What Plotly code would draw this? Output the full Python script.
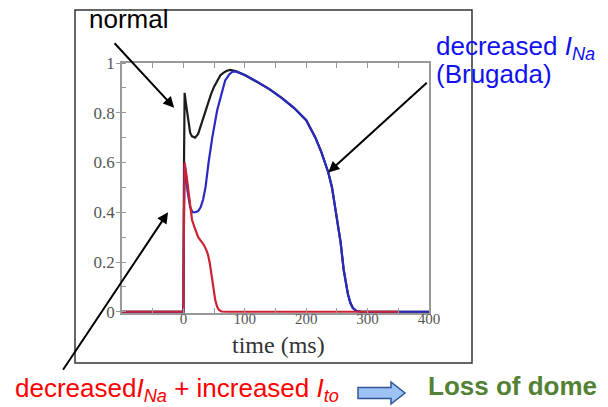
import plotly.graph_objects as go

# Action potential traces (time in ms, normalised voltage)
t_normal = [-100, 0, 1, 2, 4, 6.5, 9, 11, 14, 19, 24, 30, 35, 40, 45, 50, 55, 60, 65, 70, 76, 85,
            100, 120, 140, 160, 180, 200, 215, 225, 236, 242, 251, 256, 261, 264, 268, 272, 276, 282, 290, 400]
v_normal = [0, 0, 0.6, 0.88, 0.84, 0.80, 0.75, 0.72, 0.705, 0.70, 0.715, 0.76, 0.80, 0.84, 0.875, 0.905, 0.93, 0.95, 0.96, 0.968, 0.972, 0.968,
            0.952, 0.925, 0.895, 0.86, 0.82, 0.77, 0.70, 0.64, 0.56, 0.50, 0.37, 0.28, 0.17, 0.13, 0.07, 0.035, 0.015, 0.003, 0, 0]

t_brugada = [-100, 0, 1, 2, 3, 6.5, 11, 15, 19.5, 24, 28, 32, 36, 41, 47, 55, 63, 68, 75, 80, 85,
             100, 120, 140, 160, 180, 200, 215, 225, 236, 242, 251, 256, 261, 264, 268, 272, 276, 282, 290, 400]
v_brugada = [0, 0, 0.4, 0.59, 0.58, 0.49, 0.42, 0.40, 0.40, 0.405, 0.42, 0.45, 0.50, 0.60, 0.70, 0.81, 0.89, 0.93, 0.955, 0.965, 0.966,
             0.952, 0.925, 0.895, 0.86, 0.82, 0.77, 0.70, 0.64, 0.56, 0.50, 0.37, 0.28, 0.17, 0.13, 0.07, 0.035, 0.015, 0.003, 0, 0]

t_loss = [-100, 0, 1, 2, 3, 5, 6.5, 9, 11, 14, 18, 24, 30, 33, 37, 40, 43, 46, 49, 52, 55, 58, 62, 70, 350]
v_loss = [0, 0, 0.4, 0.6, 0.58, 0.55, 0.52, 0.46, 0.41, 0.37, 0.34, 0.30, 0.28, 0.27, 0.25, 0.23, 0.195, 0.14, 0.08, 0.045, 0.02, 0.007, 0.001, 0, 0]

x_ticks = [0, 100, 200, 300, 400]

# Plot-area geometry in pixels
W, H = 608, 407
L, R, T, B = 122, 429, 63, 313


def fx(px):
    return (px - L) / (R - L)


def fy(py):
    return (B - py) / (B - T)


fig = go.Figure()
fig.add_trace(go.Scatter(x=t_normal, y=v_normal, mode="lines",
                         line=dict(color="#1c1c1c", width=2.2), hoverinfo="skip"))
fig.add_trace(go.Scatter(x=t_brugada, y=v_brugada, mode="lines",
                         line=dict(color="#2a2ac0", width=2.2), hoverinfo="skip"))
fig.add_trace(go.Scatter(x=t_loss, y=v_loss, mode="lines",
                         line=dict(color="#cc2233", width=2.2), hoverinfo="skip"))

sans = "Liberation Sans, Arial, sans-serif"
serif = "Liberation Serif, Times New Roman, serif"

annotations = [
    dict(text="normal", xref="paper", yref="paper", x=fx(87), y=fy(19),
         xanchor="left", yanchor="middle", showarrow=False,
         font=dict(family=sans, size=26, color="black")),
    dict(text="decreased <i>I<sub>Na</sub></i>", xref="paper", yref="paper", x=fx(434), y=fy(48),
         xanchor="left", yanchor="middle", showarrow=False,
         font=dict(family=sans, size=26, color="#1010f0")),
    dict(text="(Brugada)", xref="paper", yref="paper", x=fx(434), y=fy(74),
         xanchor="left", yanchor="middle", showarrow=False,
         font=dict(family=sans, size=26, color="#1010f0")),
    dict(text="decreased<i>I<sub>Na</sub></i> + increased <i>I<sub>to</sub></i>", xref="paper", yref="paper",
         x=fx(13), y=fy(389), xanchor="left", yanchor="middle", showarrow=False,
         font=dict(family=sans, size=26, color="#ff0000")),
    dict(text="<b>Loss of dome</b>", xref="paper", yref="paper", x=fx(426), y=fy(386),
         xanchor="left", yanchor="middle", showarrow=False,
         font=dict(family=sans, size=26, color="#548235")),
    dict(text="time (ms)", xref="paper", yref="paper", x=fx(278), y=fy(345),
         xanchor="center", yanchor="middle", showarrow=False,
         font=dict(family=serif, size=24, color="#333333")),
    # pointer arrows
    dict(text="", x=-15, y=0.82, xref="x", yref="y", ax=-61, ay=-66, axref="pixel", ayref="pixel",
         showarrow=True, arrowhead=2, arrowsize=1.1, arrowwidth=2, arrowcolor="black"),
    dict(text="", x=-25, y=0.40, xref="x", yref="y", ax=-106, ay=159, axref="pixel", ayref="pixel",
         showarrow=True, arrowhead=2, arrowsize=1.1, arrowwidth=2, arrowcolor="black"),
    dict(text="", x=236, y=0.56, xref="x", yref="y", ax=100, ay=-91, axref="pixel", ayref="pixel",
         showarrow=True, arrowhead=2, arrowsize=1.1, arrowwidth=2, arrowcolor="black"),
]


def block_arrow(x0, x1, xh, ymid, body_half, head_half):
    pts = [(x0, ymid - body_half), (xh, ymid - body_half), (xh, ymid - head_half), (x1, ymid),
           (xh, ymid + head_half), (xh, ymid + body_half), (x0, ymid + body_half)]
    s = "M " + " L ".join(f"{fx(a):.5f},{fy(b):.5f}" for a, b in pts) + " Z"
    return s


shapes = [
    dict(type="rect", xref="paper", yref="paper", x0=fx(75), x1=fx(472), y0=fy(363), y1=fy(10),
         line=dict(color="#333333", width=1.5), fillcolor="rgba(0,0,0,0)", layer="below"),
    dict(type="path", xref="paper", yref="paper", path=block_arrow(358, 405, 391, 393, 5.5, 11),
         line=dict(color="#2f5597", width=1.5), fillcolor="#9dc3f5"),
]

fig.update_layout(
    width=W, height=H,
    margin=dict(l=L, r=W - R, t=T, b=H - B, pad=0),
    paper_bgcolor="white", plot_bgcolor="white",
    showlegend=False,
    annotations=annotations,
    shapes=shapes,
    xaxis=dict(range=[-100, 400], tickvals=x_ticks, ticks="inside", ticklen=5, tickcolor="#999",
               minor=dict(dtick=50, ticks="inside", ticklen=5, tickcolor="#999"),
               showline=True, linecolor="#999", linewidth=1.5, mirror="allticks",
               showgrid=False, zeroline=False, ticklabelstandoff=-9,
               tickfont=dict(family=serif, size=15, color="#555")),
    yaxis=dict(range=[-0.005, 1.0], dtick=0.2, ticks="outside", ticklen=4, tickcolor="#999",
               minor=dict(dtick=0.1, ticks="inside", ticklen=4, tickcolor="#999"),
               showline=True, linecolor="#999", linewidth=1.5, mirror=True,
               showgrid=False, zeroline=False, ticklabelstandoff=-2,
               tickfont=dict(family=serif, size=17, color="#555")),
)

fig.write_html("out.html")
